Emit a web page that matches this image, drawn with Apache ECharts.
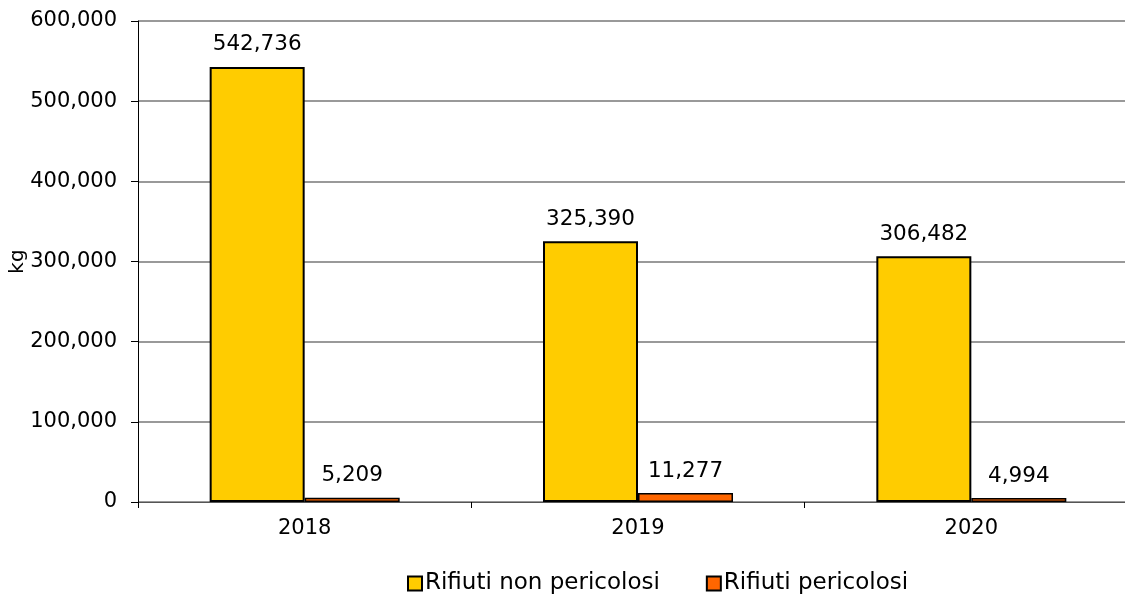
<!DOCTYPE html>
<html>
<head>
<meta charset="utf-8">
<script src="https://cdn.jsdelivr.net/npm/echarts@6/dist/echarts.min.js"></script>
<style>
  html, body { margin: 0; padding: 0; background: #fff; }
  #chart { width: 1125px; height: 595px; }
</style>
</head>
<body>
<div id="chart"></div>
<script>
// dati
const anni = ['2018', '2019', '2020']
const nonPericolosi = [542736, 325390, 306482]
const pericolosi = [5209, 11277, 4994]
const nomiSerie = ['Rifiuti non pericolosi', 'Rifiuti pericolosi']
const coloriSerie = ['#FFCC00', '#FF6600']

const font = 'Verdana, "DejaVu Sans", sans-serif'
const fmt = v => v.toLocaleString('en-US')

const myChart = echarts.init(document.getElementById('chart'))
const options = {
  animation: false,
  textStyle: { fontFamily: font },
  grid: { left: 138, right: -13, top: 21, bottom: 93, containLabel: false, outerBoundsMode: 'none' },
  legend: {
    bottom: -5,
    left: 402,
    itemWidth: 14,
    itemHeight: 14,
    itemGap: 46,
    textStyle: { fontSize: 23, color: '#000', fontFamily: font, padding: [0, 0, 0, -2] },
    data: nomiSerie.map((n, i) => ({
      name: n,
      icon: 'rect',
      itemStyle: { color: coloriSerie[i], borderColor: '#000', borderWidth: 2 }
    }))
  },
  xAxis: {
    type: 'category',
    data: anni,
    axisLine: { lineStyle: { color: '#555', width: 1 } },
    axisTick: { show: true, length: 6, lineStyle: { color: '#000', width: 1 } },
    axisLabel: { fontSize: 21, color: '#000', margin: 16, fontFamily: font }
  },
  yAxis: {
    type: 'value',
    min: 0,
    max: 600000,
    interval: 100000,
    name: 'kg',
    nameLocation: 'middle',
    nameRotate: 90,
    nameGap: 110,
    nameMoveOverlap: false,
    nameTextStyle: { fontSize: 20, color: '#000', fontFamily: font },
    axisLine: { show: true, lineStyle: { color: '#000', width: 1 } },
    axisTick: { show: true, length: 7, lineStyle: { color: '#000' } },
    axisLabel: { fontSize: 21, color: '#000', margin: 21, formatter: fmt, fontFamily: font },
    splitLine: { lineStyle: { color: '#999', width: 2 } }
  },
  series: [
    {
      name: nomiSerie[0],
      type: 'bar',
      data: nonPericolosi,
      barWidth: 95,
      barGap: '0%',
      itemStyle: { color: coloriSerie[0], borderColor: '#000', borderWidth: 2 },
      label: { show: true, position: 'top', distance: 11, fontSize: 21.5, color: '#000', formatter: p => fmt(p.value), fontFamily: font }
    },
    {
      name: nomiSerie[1],
      type: 'bar',
      data: pericolosi,
      barWidth: 95,
      barGap: '0%',
      itemStyle: { color: coloriSerie[1], borderColor: '#000', borderWidth: 1.5 },
      label: { show: true, position: 'top', distance: 11, fontSize: 21.5, color: '#000', formatter: p => fmt(p.value), fontFamily: font }
    }
  ]
}
myChart.setOption(options)
window.onresize = myChart.resize
</script>
</body>
</html>
